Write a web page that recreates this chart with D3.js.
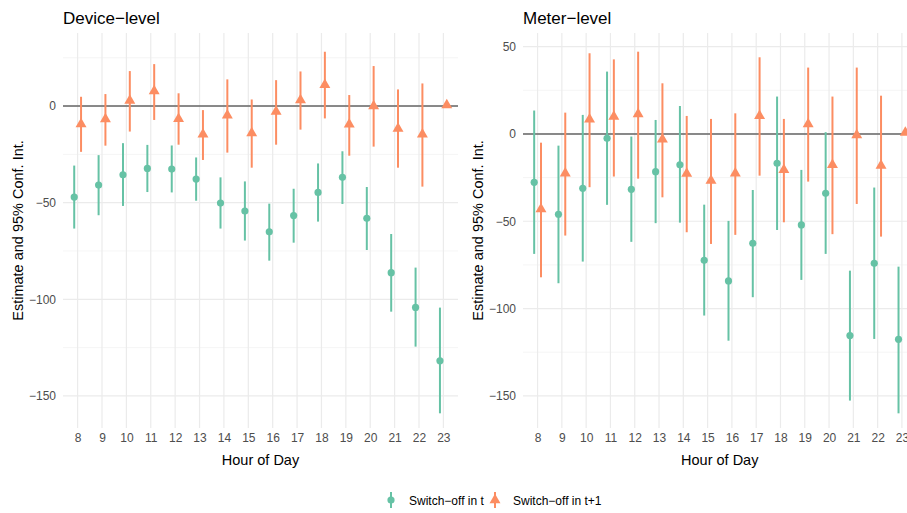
<!DOCTYPE html>
<html>
<head>
<meta charset="utf-8">
<script src="https://cdn.jsdelivr.net/npm/d3@7"></script>
<style>
  html, body { margin: 0; padding: 0; background: #fff; }
  svg { display: block; font-family: "Liberation Sans", Arial, Helvetica, sans-serif; }
</style>
</head>
<body>
<svg id="chart" width="907" height="513"></svg>
<script>
// ---------- data ----------
const hours = [8, 9, 10, 11, 12, 13, 14, 15, 16, 17, 18, 19, 20, 21, 22, 23];
const seriesNames = ["Switch\u2212off in t", "Switch\u2212off in t+1"];
const panelTitles = ["Device\u2212level", "Meter\u2212level"];

// Device-level, switch-off in t
const devT_est   = [-47.1, -40.9, -35.6, -32.3, -32.6, -37.8, -50.2, -54.3, -65.1, -56.7, -44.7, -36.9, -58.1, -86.2, -104.2, -131.8];
const devT_low   = [-63.4, -56.5, -51.7, -44.5, -44.7, -49.0, -63.4, -69.6, -80.0, -70.7, -59.8, -50.7, -74.5, -106.4, -124.5, -159.0];
const devT_high  = [-30.8, -25.4, -19.2, -20.1, -20.4, -26.6, -36.9, -39.0, -50.5, -42.8, -29.7, -23.4, -41.9, -66.2, -83.6, -104.3];
// Device-level, switch-off in t+1
const devT1_est  = [-9.3, -6.7, 2.8, 7.8, -6.6, -14.6, -4.8, -14.0, -2.9, 3.1, 11.0, -9.5, 0.0, -11.6, -14.6, 0.5];
const devT1_low  = [-23.7, -20.5, -13.2, -7.2, -20.0, -27.9, -24.1, -31.9, -20.0, -12.2, -6.4, -25.7, -21.0, -31.9, -41.7, -0.5];
const devT1_high = [4.8, 6.2, 18.1, 21.7, 6.6, -2.1, 13.8, 3.4, 13.4, 17.9, 28.1, 5.7, 20.7, 8.6, 11.7, 1.5];

// Meter-level, switch-off in t
const metT_est   = [-27.7, -46.0, -31.1, -2.5, -31.7, -21.6, -17.7, -72.4, -84.2, -62.6, -16.8, -52.1, -34.0, -115.5, -74.1, -117.6];
const metT_low   = [-68.7, -85.5, -73.1, -40.6, -61.8, -51.1, -50.8, -104.0, -118.4, -93.5, -55.0, -83.6, -68.7, -152.7, -117.4, -160.0];
const metT_high  = [13.4, -6.7, 10.9, 35.7, -1.5, 8.0, 16.0, -40.5, -49.8, -32.1, 21.4, -20.6, 1.0, -78.3, -30.7, -76.0];
// Meter-level, switch-off in t+1
const metT1_est  = [-43.1, -22.5, 8.4, 9.9, 11.3, -3.1, -22.7, -26.7, -22.5, 10.3, -20.6, 5.7, -17.7, -0.6, -18.1, 0.8];
const metT1_low  = [-82.1, -58.2, -30.5, -24.4, -25.6, -36.3, -56.3, -63.0, -57.8, -23.9, -50.6, -27.3, -57.4, -40.1, -58.8, -0.2];
const metT1_high = [-5.0, 12.2, 46.2, 42.7, 47.1, 29.0, 10.3, 8.6, 11.8, 43.9, 8.6, 38.0, 21.4, 38.0, 21.9, 1.8];

const yTicksDevice = [-150, -100, -50, 0];
const yTicksMeter  = [-150, -100, -50, 0, 50];

// ---------- layout ----------
const colors = ["#66c2a5", "#fc8d62"];
const svg = d3.select("#chart");

const panels = [
  { title: panelTitles[0], x0: 63,  x1: 458,   yDomain: [-166.6, 37.8], ticks: yTicksDevice, minor: [-125, -75, -25, 25],
    series: [[devT_est, devT_low, devT_high], [devT1_est, devT1_low, devT1_high]], ytitleX: 18 },
  { title: panelTitles[1], x0: 523, x1: 916.5, yDomain: [-168.4, 57.8], ticks: yTicksMeter, minor: [-125, -75, -25, 25],
    series: [[metT_est, metT_low, metT_high], [metT1_est, metT1_low, metT1_high]], ytitleX: 478 }
];
const panelTop = 33, panelBottom = 428;
const dodge = [-0.14, 0.14];

panels.forEach(p => {
  const x = d3.scaleLinear().domain([7.4, 23.6]).range([p.x0, p.x1]);
  const y = d3.scaleLinear().domain(p.yDomain).range([panelBottom, panelTop]);
  const g = svg.append("g");

  // grid minor
  g.selectAll(".minor").data(p.minor).join("line")
    .attr("x1", p.x0).attr("x2", p.x1)
    .attr("y1", d => y(d)).attr("y2", d => y(d))
    .attr("stroke", "#f2f2f2").attr("stroke-width", 0.8);
  // grid major horizontal
  g.selectAll(".majorh").data(p.ticks).join("line")
    .attr("x1", p.x0).attr("x2", p.x1)
    .attr("y1", d => y(d)).attr("y2", d => y(d))
    .attr("stroke", "#ebebeb").attr("stroke-width", 1.2);
  // grid major vertical
  g.selectAll(".majorv").data(hours).join("line")
    .attr("x1", d => x(d)).attr("x2", d => x(d))
    .attr("y1", panelTop).attr("y2", panelBottom)
    .attr("stroke", "#ebebeb").attr("stroke-width", 1.2);

  // zero line
  g.append("line")
    .attr("x1", p.x0).attr("x2", p.x1)
    .attr("y1", y(0)).attr("y2", y(0))
    .attr("stroke", "#666666").attr("stroke-width", 1.5);

  // y axis labels
  const yAxis = d3.axisLeft(y).tickValues(p.ticks).tickSize(0).tickPadding(0);
  const ya = g.append("g").attr("transform", `translate(${p.x0 - 7},0)`).call(yAxis);
  ya.select(".domain").remove();
  ya.selectAll("text").attr("fill", "#4d4d4d").style("font-size", "12px")
    .style("font-family", "'Liberation Sans', Arial, sans-serif");

  // x axis labels
  const xAxis = d3.axisBottom(x).tickValues(hours).tickFormat(d3.format("d")).tickSize(0).tickPadding(0);
  const xa = g.append("g").attr("transform", `translate(0,${panelBottom + 5})`).call(xAxis);
  xa.select(".domain").remove();
  xa.selectAll("text").attr("fill", "#4d4d4d").style("font-size", "12px")
    .style("font-family", "'Liberation Sans', Arial, sans-serif");

  // titles
  g.append("text").attr("x", p.x0).attr("y", 24)
    .attr("font-size", "17px").attr("fill", "#000").text(p.title);
  g.append("text").attr("x", (p.x0 + p.x1) / 2).attr("y", 465)
    .attr("text-anchor", "middle").attr("font-size", "14.5px").attr("fill", "#000").text("Hour of Day");
  g.append("text")
    .attr("transform", `translate(${p.ytitleX + 5},${(panelTop + panelBottom) / 2}) rotate(-90)`)
    .attr("text-anchor", "middle").attr("font-size", "14.5px").attr("fill", "#000")
    .text("Estimate and 95% Conf. Int.");

  // series
  p.series.forEach((s, si) => {
    const [est, low, high] = s;
    const data = hours.map((h, i) => ({ h, est: est[i], low: low[i], high: high[i] }));
    const sg = g.append("g");
    sg.selectAll("line").data(data).join("line")
      .attr("x1", d => x(d.h + dodge[si])).attr("x2", d => x(d.h + dodge[si]))
      .attr("y1", d => y(d.low)).attr("y2", d => y(d.high))
      .attr("stroke", colors[si]).attr("stroke-width", 2);
    if (si === 0) {
      sg.selectAll("circle").data(data).join("circle")
        .attr("cx", d => x(d.h + dodge[si])).attr("cy", d => y(d.est))
        .attr("r", 3.6).attr("fill", colors[si]);
    } else {
      sg.selectAll("path").data(data).join("path")
        .attr("transform", d => `translate(${x(d.h + dodge[si])},${y(d.est)})`)
        .attr("d", d3.symbol(d3.symbolTriangle, 52))
        .attr("fill", colors[si]);
    }
  });
});

// legend
const leg = svg.append("g");
const legItems = [{ x: 391, tx: 409 }, { x: 495, tx: 513 }];
legItems.forEach((it, i) => {
  leg.append("line").attr("x1", it.x).attr("x2", it.x).attr("y1", 492).attr("y2", 508)
    .attr("stroke", colors[i]).attr("stroke-width", 2);
  if (i === 0) {
    leg.append("circle").attr("cx", it.x).attr("cy", 500).attr("r", 3.6).attr("fill", colors[i]);
  } else {
    leg.append("path").attr("transform", `translate(${it.x},500)`)
      .attr("d", d3.symbol(d3.symbolTriangle, 52)).attr("fill", colors[i]);
  }
  leg.append("text").attr("x", it.tx).attr("y", 504.5).attr("font-size", "12px")
    .attr("fill", "#000").text(seriesNames[i]);
});
</script>
</body>
</html>
